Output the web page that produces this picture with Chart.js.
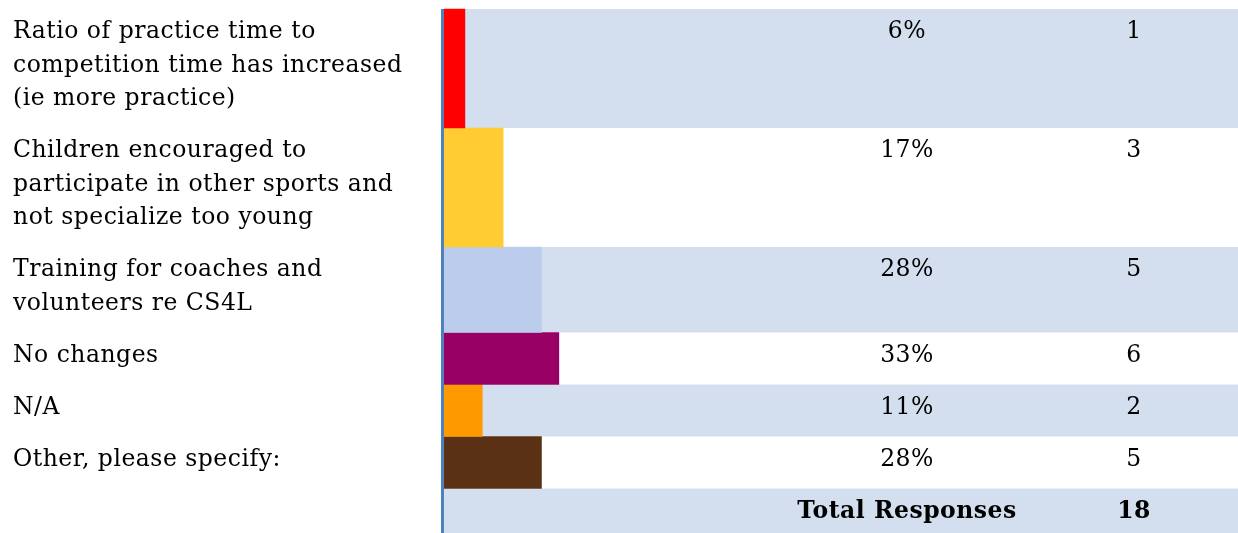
<!DOCTYPE html>
<html>
<head>
<meta charset="utf-8">
<script src="https://cdn.jsdelivr.net/npm/chart.js@4.4.1/dist/chart.umd.min.js"></script>
<style>
  html, body { margin: 0; padding: 0; background: #ffffff; }
  #wrap { width: 1238px; height: 533px; position: relative; }
</style>
</head>
<body>
<div id="wrap"><canvas id="c"></canvas></div>
<script>
// ---- survey results ----
const categories = [
  ['Ratio of practice time to', 'competition time has increased', '(ie more practice)'],
  ['Children encouraged to', 'participate in other sports and', 'not specialize too young'],
  ['Training for coaches and', 'volunteers re CS4L'],
  ['No changes'],
  ['N/A'],
  ['Other, please specify:']
];
const percents = [6, 17, 28, 33, 11, 28];
const counts = [1, 3, 5, 6, 2, 5];
const totalLabel = 'Total Responses';
const totalCount = 18;
const barColors = ['#FF0000', '#FFCC33', '#BBCCEC', '#990066', '#FF9900', '#5A3114'];

// ---- table layout (vertical units = CSS pixels of the canvas) ----
const TOP_GAP = 9;
const LINE_H = 33.5;
const ROW_PAD = 18.5;
const TOTAL_ROW_H = 44.5;
const BAND_COLOR = '#D3DFEE';
const AXIS_COLOR = '#4F81BD';
const FONT_FAMILY = '"DejaVu Serif", serif';
const FONT_SIZE = 23.5;
const LETTER_SPACING = '0.5px';
const LABEL_X = 13;
const PCT_COL_X = 907;
const COUNT_COL_X = 1134;
const BASELINE_OFFSET = 29;

const rowHeights = categories.map(lines => lines.length * LINE_H + ROW_PAD);
const rowStarts = [];
rowHeights.reduce((acc, h) => { rowStarts.push(acc); return acc + h; }, TOP_GAP);
const totalRowStart = rowStarts[rowStarts.length - 1] + rowHeights[rowHeights.length - 1];
const Y_MAX = totalRowStart + TOTAL_ROW_H;
const rowCenters = rowStarts.map((s, i) => s + rowHeights[i] / 2);

// one dataset per row so each bar can fill its own row height
const datasets = categories.map((lines, i) => ({
  label: lines.join(' '),
  data: [{ x: percents[i], y: rowCenters[i] }],
  backgroundColor: barColors[i],
  borderWidth: 0,
  barThickness: rowHeights[i]
}));

const tablePlugin = {
  id: 'surveyTable',
  beforeUpdate(chart) {
    const k = chart.height / Y_MAX;
    chart.data.datasets.forEach((ds, i) => { ds.barThickness = rowHeights[i] * k; });
  },
  beforeDatasetsDraw(chart) {
    const { ctx, chartArea, scales: { y } } = chart;
    ctx.save();
    ctx.fillStyle = BAND_COLOR;
    const bands = rowStarts.map((s, i) => [s, s + rowHeights[i]]);
    bands.push([totalRowStart, Y_MAX]);
    bands.forEach(([a, b], i) => {
      if (i % 2 !== 0) return;
      const y0 = y.getPixelForValue(a);
      const y1 = y.getPixelForValue(b);
      ctx.fillRect(chartArea.left, y0, chart.width - chartArea.left, y1 - y0);
    });
    ctx.restore();
  },
  afterDatasetsDraw(chart) {
    const { ctx, chartArea, scales: { y } } = chart;
    ctx.save();
    // left axis rule
    ctx.fillStyle = AXIS_COLOR;
    const yTop = y.getPixelForValue(rowStarts[0]);
    const yBot = y.getPixelForValue(Y_MAX);
    ctx.fillRect(chartArea.left - 3, yTop, 3, yBot - yTop);

    ctx.fillStyle = '#000000';
    ctx.textBaseline = 'alphabetic';
    if ('letterSpacing' in ctx) ctx.letterSpacing = LETTER_SPACING;
    ctx.font = FONT_SIZE + 'px ' + FONT_FAMILY;
    categories.forEach((lines, i) => {
      const base = y.getPixelForValue(rowStarts[i]) + BASELINE_OFFSET;
      ctx.textAlign = 'left';
      lines.forEach((t, j) => ctx.fillText(t, LABEL_X, base + j * LINE_H));
      ctx.textAlign = 'center';
      ctx.fillText(percents[i] + '%', PCT_COL_X, base);
      ctx.fillText(String(counts[i]), COUNT_COL_X, base);
    });
    const tBase = y.getPixelForValue(totalRowStart) + BASELINE_OFFSET;
    ctx.font = 'bold ' + FONT_SIZE + 'px ' + FONT_FAMILY;
    ctx.textAlign = 'center';
    ctx.fillText(totalLabel, PCT_COL_X, tBase);
    ctx.fillText(String(totalCount), COUNT_COL_X, tBase);
    ctx.restore();
  }
};

new Chart(document.getElementById('c'), {
  type: 'bar',
  data: { datasets },
  options: {
    indexAxis: 'y',
    responsive: true,
    maintainAspectRatio: false,
    animation: false,
    layout: { padding: { left: 444, right: 446, top: 0, bottom: 0 } },
    scales: {
      x: { type: 'linear', min: 0, max: 100, display: false },
      y: { type: 'linear', min: 0, max: Y_MAX, reverse: true, stacked: true, offset: false, display: false }
    },
    plugins: { legend: { display: false }, tooltip: { enabled: false } }
  },
  plugins: [tablePlugin]
});
</script>
</body>
</html>
